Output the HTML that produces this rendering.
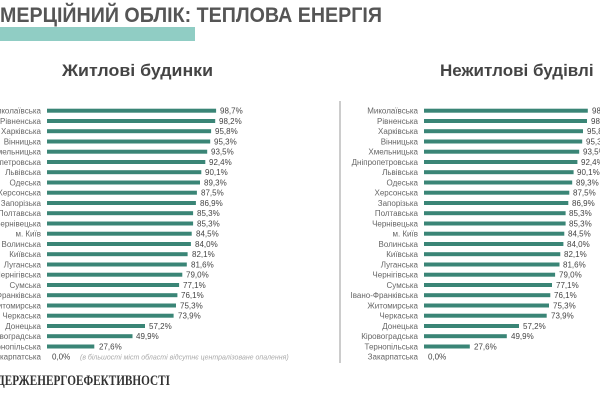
<!DOCTYPE html>
<html><head><meta charset="utf-8"><style>
html,body{margin:0;padding:0;background:#fff;}
svg{display:block;font-family:"Liberation Sans",sans-serif;}
.l{font-size:8px;fill:#666;text-anchor:end;}
.v{font-size:8px;fill:#444;}
.b{fill:#3a8576;}
</style></head><body>
<svg width="600" height="400" viewBox="0 0 600 400">
<text x="0" y="22" font-size="21" font-weight="bold" fill="#555" textLength="382" lengthAdjust="spacingAndGlyphs">МЕРЦІЙНИЙ ОБЛІК: ТЕПЛОВА ЕНЕРГІЯ</text>
<rect x="0" y="27" width="195" height="14" fill="#90cdc4"/>
<text x="62" y="76" font-size="17" font-weight="bold" fill="#444" textLength="151" lengthAdjust="spacingAndGlyphs">Житлові будинки</text>
<text x="440" y="76" font-size="17" font-weight="bold" fill="#444">Нежитлові будівлі</text>
<line x1="340" y1="101" x2="340" y2="363" stroke="#bbb" stroke-width="1.5"/>
<g id="rows">
<g transform="translate(0,110.7)"><text class="l" x="41" y="3">Миколаївська</text><rect class="b" x="47" y="-2" width="169.1" height="4"/><text class="v" x="220" y="3">98,7%</text><text class="l" x="418" y="3">Миколаївська</text><rect class="b" x="424" y="-2" width="163.8" height="4"/><text class="v" x="592" y="3">98,7%</text></g>
<g transform="translate(0,121)"><text class="l" x="41" y="3">Рівненська</text><rect class="b" x="47" y="-2" width="168.2" height="4"/><text class="v" x="219" y="3">98,2%</text><text class="l" x="418" y="3">Рівненська</text><rect class="b" x="424" y="-2" width="163" height="4"/><text class="v" x="591" y="3">98,2%</text></g>
<g transform="translate(0,131.2)"><text class="l" x="41" y="3">Харківська</text><rect class="b" x="47" y="-2" width="164.1" height="4"/><text class="v" x="215" y="3">95,8%</text><text class="l" x="418" y="3">Харківська</text><rect class="b" x="424" y="-2" width="159" height="4"/><text class="v" x="587" y="3">95,8%</text></g>
<g transform="translate(0,141.5)"><text class="l" x="41" y="3">Вінницька</text><rect class="b" x="47" y="-2" width="163.2" height="4"/><text class="v" x="214" y="3">95,3%</text><text class="l" x="418" y="3">Вінницька</text><rect class="b" x="424" y="-2" width="158.2" height="4"/><text class="v" x="586" y="3">95,3%</text></g>
<g transform="translate(0,151.7)"><text class="l" x="41" y="3">Хмельницька</text><rect class="b" x="47" y="-2" width="160.2" height="4"/><text class="v" x="211" y="3">93,5%</text><text class="l" x="418" y="3">Хмельницька</text><rect class="b" x="424" y="-2" width="155.2" height="4"/><text class="v" x="583" y="3">93,5%</text></g>
<g transform="translate(0,162)"><text class="l" x="41" y="3">Дніпропетровська</text><rect class="b" x="47" y="-2" width="158.3" height="4"/><text class="v" x="209" y="3">92,4%</text><text class="l" x="418" y="3">Дніпропетровська</text><rect class="b" x="424" y="-2" width="153.4" height="4"/><text class="v" x="581" y="3">92,4%</text></g>
<g transform="translate(0,172.2)"><text class="l" x="41" y="3">Львівська</text><rect class="b" x="47" y="-2" width="154.3" height="4"/><text class="v" x="205" y="3">90,1%</text><text class="l" x="418" y="3">Львівська</text><rect class="b" x="424" y="-2" width="149.6" height="4"/><text class="v" x="577" y="3">90,1%</text></g>
<g transform="translate(0,182.5)"><text class="l" x="41" y="3">Одеська</text><rect class="b" x="47" y="-2" width="153" height="4"/><text class="v" x="204" y="3">89,3%</text><text class="l" x="418" y="3">Одеська</text><rect class="b" x="424" y="-2" width="148.2" height="4"/><text class="v" x="576" y="3">89,3%</text></g>
<g transform="translate(0,192.7)"><text class="l" x="41" y="3">Херсонська</text><rect class="b" x="47" y="-2" width="149.9" height="4"/><text class="v" x="201" y="3">87,5%</text><text class="l" x="418" y="3">Херсонська</text><rect class="b" x="424" y="-2" width="145.3" height="4"/><text class="v" x="573" y="3">87,5%</text></g>
<g transform="translate(0,203)"><text class="l" x="41" y="3">Запорізька</text><rect class="b" x="47" y="-2" width="148.9" height="4"/><text class="v" x="200" y="3">86,9%</text><text class="l" x="418" y="3">Запорізька</text><rect class="b" x="424" y="-2" width="144.3" height="4"/><text class="v" x="572" y="3">86,9%</text></g>
<g transform="translate(0,213.2)"><text class="l" x="41" y="3">Полтавська</text><rect class="b" x="47" y="-2" width="146.1" height="4"/><text class="v" x="197" y="3">85,3%</text><text class="l" x="418" y="3">Полтавська</text><rect class="b" x="424" y="-2" width="141.6" height="4"/><text class="v" x="569" y="3">85,3%</text></g>
<g transform="translate(0,223.5)"><text class="l" x="41" y="3">Чернівецька</text><rect class="b" x="47" y="-2" width="146.1" height="4"/><text class="v" x="197" y="3">85,3%</text><text class="l" x="418" y="3">Чернівецька</text><rect class="b" x="424" y="-2" width="141.6" height="4"/><text class="v" x="569" y="3">85,3%</text></g>
<g transform="translate(0,233.7)"><text class="l" x="41" y="3">м. Київ</text><rect class="b" x="47" y="-2" width="144.7" height="4"/><text class="v" x="196" y="3">84,5%</text><text class="l" x="418" y="3">м. Київ</text><rect class="b" x="424" y="-2" width="140.3" height="4"/><text class="v" x="568" y="3">84,5%</text></g>
<g transform="translate(0,244)"><text class="l" x="41" y="3">Волинська</text><rect class="b" x="47" y="-2" width="143.9" height="4"/><text class="v" x="195" y="3">84,0%</text><text class="l" x="418" y="3">Волинська</text><rect class="b" x="424" y="-2" width="139.4" height="4"/><text class="v" x="567" y="3">84,0%</text></g>
<g transform="translate(0,254.2)"><text class="l" x="41" y="3">Київська</text><rect class="b" x="47" y="-2" width="140.6" height="4"/><text class="v" x="192" y="3">82,1%</text><text class="l" x="418" y="3">Київська</text><rect class="b" x="424" y="-2" width="136.3" height="4"/><text class="v" x="564" y="3">82,1%</text></g>
<g transform="translate(0,264.5)"><text class="l" x="41" y="3">Луганська</text><rect class="b" x="47" y="-2" width="139.8" height="4"/><text class="v" x="191" y="3">81,6%</text><text class="l" x="418" y="3">Луганська</text><rect class="b" x="424" y="-2" width="135.5" height="4"/><text class="v" x="563" y="3">81,6%</text></g>
<g transform="translate(0,274.7)"><text class="l" x="41" y="3">Чернігівська</text><rect class="b" x="47" y="-2" width="135.3" height="4"/><text class="v" x="186" y="3">79,0%</text><text class="l" x="418" y="3">Чернігівська</text><rect class="b" x="424" y="-2" width="131.1" height="4"/><text class="v" x="559" y="3">79,0%</text></g>
<g transform="translate(0,285)"><text class="l" x="41" y="3">Сумська</text><rect class="b" x="47" y="-2" width="132.1" height="4"/><text class="v" x="183" y="3">77,1%</text><text class="l" x="418" y="3">Сумська</text><rect class="b" x="424" y="-2" width="128" height="4"/><text class="v" x="556" y="3">77,1%</text></g>
<g transform="translate(0,295.2)"><text class="l" x="41" y="3">Івано-Франківська</text><rect class="b" x="47" y="-2" width="130.4" height="4"/><text class="v" x="181" y="3">76,1%</text><text class="l" x="418" y="3">Івано-Франківська</text><rect class="b" x="424" y="-2" width="126.3" height="4"/><text class="v" x="554" y="3">76,1%</text></g>
<g transform="translate(0,305.5)"><text class="l" x="41" y="3">Житомирська</text><rect class="b" x="47" y="-2" width="129" height="4"/><text class="v" x="180" y="3">75,3%</text><text class="l" x="418" y="3">Житомирська</text><rect class="b" x="424" y="-2" width="125" height="4"/><text class="v" x="553" y="3">75,3%</text></g>
<g transform="translate(0,315.7)"><text class="l" x="41" y="3">Черкаська</text><rect class="b" x="47" y="-2" width="126.6" height="4"/><text class="v" x="178" y="3">73,9%</text><text class="l" x="418" y="3">Черкаська</text><rect class="b" x="424" y="-2" width="122.7" height="4"/><text class="v" x="551" y="3">73,9%</text></g>
<g transform="translate(0,326)"><text class="l" x="41" y="3">Донецька</text><rect class="b" x="47" y="-2" width="98" height="4"/><text class="v" x="149" y="3">57,2%</text><text class="l" x="418" y="3">Донецька</text><rect class="b" x="424" y="-2" width="95" height="4"/><text class="v" x="523" y="3">57,2%</text></g>
<g transform="translate(0,336.2)"><text class="l" x="41" y="3">Кіровоградська</text><rect class="b" x="47" y="-2" width="85.5" height="4"/><text class="v" x="136" y="3">49,9%</text><text class="l" x="418" y="3">Кіровоградська</text><rect class="b" x="424" y="-2" width="82.8" height="4"/><text class="v" x="511" y="3">49,9%</text></g>
<g transform="translate(0,346.5)"><text class="l" x="41" y="3">Тернопільська</text><rect class="b" x="47" y="-2" width="47.3" height="4"/><text class="v" x="99" y="3">27,6%</text><text class="l" x="418" y="3">Тернопільська</text><rect class="b" x="424" y="-2" width="45.8" height="4"/><text class="v" x="474" y="3">27,6%</text></g>
<g transform="translate(0,356.7)"><text class="l" x="41" y="3">Закарпатська</text><text class="v" x="52" y="3">0,0%</text><text x="80" y="3" font-size="7" font-style="italic" fill="#aaa">(в більшості міст області відсутнє централізоване опалення)</text><text class="l" x="418" y="3">Закарпатська</text><text class="v" x="428" y="3">0,0%</text></g>
</g>
<text x="-3" y="385" font-size="15" font-weight="bold" fill="#333" font-family="Liberation Serif,serif" textLength="173" lengthAdjust="spacingAndGlyphs">ДЕРЖЕНЕРГОЕФЕКТИВНОСТІ</text>
</svg>
</body></html>
